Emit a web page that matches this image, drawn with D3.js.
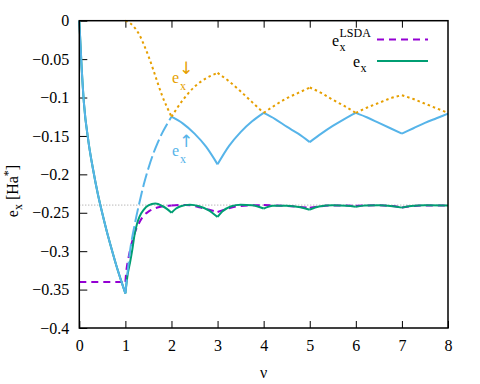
<!DOCTYPE html>
<html>
<head>
<meta charset="utf-8">
<script src="https://cdn.jsdelivr.net/npm/d3@7"></script>
<style>
body { margin: 0; background: #fff; }
svg text { font-family: "Liberation Serif", "Times New Roman", Times, serif !important; }
svg text.arrow { font-family: "DejaVu Sans", sans-serif !important; }
</style>
</head>
<body>
<div id="chart"></div>
<script>
const width = 480;
const height = 384;
const margin = {top: 20.7, right: 32, bottom: 56, left: 79.3};

// values
const xTicks = [0, 1, 2, 3, 4, 5, 6, 7, 8];
const yTicks = [0, -0.05, -0.1, -0.15, -0.2, -0.25, -0.3, -0.35, -0.4];
const refLevel = -0.24;

// e_x spin up (blue)
const upNu = [0, 0.05, 0.1, 0.2, 0.3, 0.4, 0.5, 0.6, 0.7, 0.8, 0.9, 1.0,
              1.1, 1.2, 1.3, 1.4, 1.5, 1.6, 1.7, 1.8, 1.9, 2.0,
              2.25, 2.5, 2.75, 3.0, 3.25, 3.5, 3.75, 4.0,
              4.25, 4.5, 4.75, 5.0, 5.25, 5.5, 5.75, 6.0,
              6.25, 6.5, 6.75, 7.0, 7.25, 7.5, 7.75, 8.0];
const upE  = [0, -0.06, -0.107, -0.158, -0.194, -0.225, -0.251, -0.275, -0.297, -0.318, -0.337, -0.355,
              -0.300, -0.266, -0.238, -0.213, -0.192, -0.174, -0.159, -0.146, -0.135, -0.125,
              -0.134, -0.147, -0.164, -0.187, -0.163, -0.145, -0.131, -0.120,
              -0.128, -0.138, -0.147, -0.158, -0.147, -0.137, -0.128, -0.120,
              -0.126, -0.133, -0.140, -0.147, -0.140, -0.133, -0.127, -0.121];

// e_x spin down (orange)
const downNu = [1.0, 1.1, 1.2, 1.3, 1.4, 1.5, 1.6, 1.7, 1.8, 1.9, 2.0,
                2.25, 2.5, 2.75, 3.0, 3.25, 3.5, 3.75, 4.0,
                4.25, 4.5, 4.75, 5.0, 5.25, 5.5, 5.75, 6.0,
                6.25, 6.5, 6.75, 7.0, 7.25, 7.5, 7.75, 8.0];
const downE  = [0, -0.003, -0.009, -0.018, -0.031, -0.046, -0.063, -0.081, -0.098, -0.112, -0.125,
                -0.103, -0.086, -0.075, -0.068, -0.079, -0.092, -0.106, -0.120,
                -0.110, -0.101, -0.094, -0.087, -0.094, -0.103, -0.111, -0.120,
                -0.113, -0.107, -0.101, -0.097, -0.102, -0.108, -0.114, -0.120];

// total e_x (green)
const totNu = [0, 0.05, 0.1, 0.2, 0.3, 0.4, 0.5, 0.6, 0.7, 0.8, 0.9, 1.0,
               1.05, 1.1, 1.15, 1.2, 1.25, 1.3, 1.4, 1.5, 1.65, 1.8, 1.9, 2.0,
               2.1, 2.2, 2.4, 2.6, 2.8, 3.0, 3.1, 3.3, 3.5, 3.75, 4.0,
               4.2, 4.5, 4.8, 5.0, 5.2, 5.5, 5.8, 6.0,
               6.2, 6.5, 6.8, 7.0, 7.2, 7.5, 8.0];
const totE  = [0, -0.06, -0.107, -0.158, -0.194, -0.225, -0.251, -0.275, -0.297, -0.318, -0.337, -0.355,
               -0.330, -0.315, -0.298, -0.278, -0.265, -0.256, -0.246, -0.2405, -0.238, -0.2412, -0.245, -0.250,
               -0.2445, -0.2415, -0.2395, -0.2415, -0.2465, -0.2555, -0.2485, -0.2415, -0.2395, -0.2402, -0.2445,
               -0.2408, -0.2408, -0.2428, -0.246, -0.2418, -0.2402, -0.2408, -0.2422,
               -0.2406, -0.2402, -0.2415, -0.2433, -0.2412, -0.2403, -0.2405];

// e_x LSDA (purple)
const lsdaNu = [0, 1.0, 1.02, 1.06, 1.1, 1.2, 1.3, 1.4, 1.5, 1.65, 1.8, 2.0,
                2.3, 2.6, 2.8, 3.0, 3.2, 3.5, 4.0, 4.5, 5.0, 5.5, 6.0, 6.5, 7.0, 7.5, 8.0];
const lsdaE  = [-0.34, -0.34, -0.326, -0.311, -0.299, -0.277, -0.263, -0.2535, -0.2485, -0.244, -0.2418, -0.2405,
                -0.2398, -0.2428, -0.2458, -0.249, -0.2448, -0.2412, -0.2400, -0.2412, -0.2435, -0.2405, -0.2410, -0.2403, -0.2430, -0.2405, -0.2405];

const colUp = "#56B4E9", colDown = "#E69F00", colTot = "#009E73", colLsda = "#9400D3";

const svg = d3.select("#chart").append("svg")
   .attr("width", width)
   .attr("height", height);

const x = d3.scaleLinear().domain([0, 8]).range([margin.left, width - margin.right]);
const y = d3.scaleLinear().domain([-0.4, 0]).range([height - margin.bottom, margin.top]);

// axes, ticks pointing inward
svg.append("g")
   .attr("transform", `translate(0,${height - margin.bottom})`)
   .call(d3.axisBottom(x).tickValues(xTicks).tickSize(-7).tickPadding(12).tickFormat(d3.format("d")))
   .call(g => g.select(".domain").remove());

svg.append("g")
   .attr("transform", `translate(0,${margin.top})`)
   .call(d3.axisTop(x).tickValues(xTicks.slice(1, -1)).tickSize(-7).tickFormat(""))
   .call(g => g.select(".domain").remove());

svg.append("g")
   .attr("transform", `translate(${margin.left},0)`)
   .call(d3.axisLeft(y).tickValues(yTicks).tickSize(-8).tickPadding(10).tickFormat(d => d === 0 ? "0" : d3.format("")(d)))
   .call(g => g.select(".domain").remove());

svg.selectAll("g").attr("font-family", null).attr("font-size", 16);
svg.selectAll(".tick line").attr("stroke", "#000");

// dotted reference level
svg.append("line")
   .attr("x1", x(0)).attr("x2", x(8))
   .attr("y1", y(refLevel)).attr("y2", y(refLevel))
   .attr("stroke", "#9a9a9a").attr("stroke-width", 1)
   .attr("stroke-dasharray", "1,2");

// split each curve at integer filling factors so the cusps stay sharp
function unitPieces(nu, e) {
   const segs = [];
   let cur = [];
   nu.forEach((n, i) => {
      cur.push([n, e[i]]);
      if (Number.isInteger(n) && cur.length > 1) { segs.push(cur); cur = [[n, e[i]]]; }
   });
   if (cur.length > 1) segs.push(cur);
   return segs;
}

const line = d3.line()
   .x(d => x(d[0]))
   .y(d => y(d[1]))
   .curve(d3.curveMonotoneX);

function drawCurve(nu, e, colour, dash, dashFor) {
   unitPieces(nu, e).forEach(seg => {
      const p = svg.append("path")
         .attr("d", line(seg))
         .attr("fill", "none")
         .attr("stroke", colour)
         .attr("stroke-width", 2);
      if (dash) p.attr("stroke-dasharray", dash);
      if (dashFor && dashFor(seg)) p.attr("stroke-dasharray", "14,4");
   });
}

drawCurve(lsdaNu, lsdaE, colLsda, "7,5");
drawCurve(totNu, totE, colTot, null);
drawCurve(upNu, upE, colUp, null, seg => seg[0][0] === 1);
drawCurve(downNu, downE, colDown, "2.5,3");

// frame
svg.append("rect")
   .attr("x", margin.left).attr("y", margin.top)
   .attr("width", width - margin.left - margin.right)
   .attr("height", height - margin.top - margin.bottom)
   .attr("fill", "none").attr("stroke", "#000").attr("stroke-width", 1.5);

function txt(xp, yp, size, s, colour) {
   return svg.append("text")
      .attr("x", xp).attr("y", yp)
      .attr("font-size", size)
      .attr("fill", colour || "#000")
      .text(s);
}

// axis titles
txt((x(0) + x(8)) / 2, 378, 16, "ν").attr("text-anchor", "middle");

const yl = svg.append("text")
   .attr("transform", "translate(18,191) rotate(-90)")
   .attr("text-anchor", "middle")
   .attr("font-size", 16);
yl.append("tspan").text("e");
yl.append("tspan").attr("dy", 4).attr("font-size", 12).text("x");
yl.append("tspan").attr("dy", -4).text(" [Ha");
yl.append("tspan").attr("dy", -6).attr("font-size", 12).text("*");
yl.append("tspan").attr("dy", 6).text("]");

// spin labels
function spinLabel(xp, yp, colour, arrow) {
   txt(xp, yp, 16, "e", colour);
   txt(xp + 8, yp + 7, 12, "x", colour);
   txt(xp + 7, yp - 9, 17, arrow, colour).attr("class", "arrow");
}
spinLabel(172, 83, colDown, "↓");
spinLabel(172, 156, colUp, "↑");

// legend
const legend = [
   {sub: "x", sup: "LSDA", colour: colLsda, dash: "7,5", y: 39.5, ex: 332},
   {sub: "x", sup: "", colour: colTot, dash: null, y: 61, ex: 353}
];
legend.forEach(d => {
   txt(d.ex, d.y + 6, 16, "e");
   txt(d.ex + 7.5, d.y + 11, 12, d.sub);
   if (d.sup) txt(d.ex + 7.5, d.y - 2.5, 12, d.sup);
   const l = svg.append("line")
      .attr("x1", 377).attr("x2", 428)
      .attr("y1", d.y).attr("y2", d.y)
      .attr("stroke", d.colour).attr("stroke-width", 2);
   if (d.dash) l.attr("stroke-dasharray", d.dash);
});
</script>
</body>
</html>
